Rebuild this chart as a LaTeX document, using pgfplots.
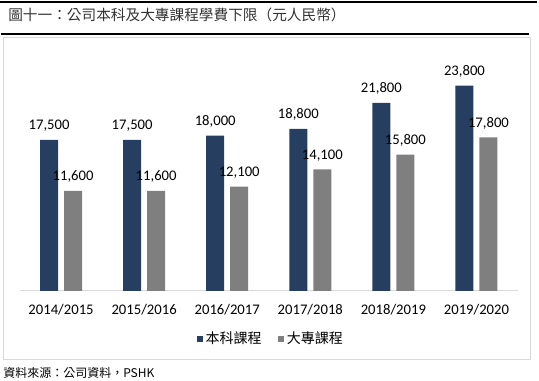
\documentclass[border=0pt]{standalone}
\usepackage{fontspec}
\setmainfont{Carlito}
\newfontfamily\cjk{Noto Sans CJK TC}
\usepackage{pgfplots}
\pgfplotsset{compat=1.18}
\definecolor{navy}{HTML}{263F61}
\definecolor{midgray}{HTML}{7F7F7F}
\definecolor{framegray}{HTML}{D9D9D9}
\definecolor{titlegray}{HTML}{333333}
\begin{document}
\begin{tikzpicture}
\useasboundingbox (0,0) rectangle (404.25pt,285.75pt);
% title rules
\draw[black,line width=1.1pt] (0pt,284.4pt) -- (403pt,284.4pt);
\draw[black,line width=0.9pt] (0.75pt,260.25pt) -- (397pt,260.25pt);
\node[anchor=west,inner sep=0pt,text=titlegray] at (6pt,274.5pt) {\cjk\fontsize{11}{13}\selectfont 圖十一：公司本科及大專課程學費下限（元人民幣）};
% chart frame
\draw[framegray,line width=0.75pt] (2.25pt,15.75pt) rectangle (397.5pt,257.25pt);
% source
\node[anchor=west,inner sep=0pt] at (2.25pt,6pt) {\cjk\fontsize{9}{11}\selectfont 資料來源：公司資料，PSHK};
\begin{axis}[
  at={(14.625pt,67.5pt)}, anchor=south west,
  scale only axis, width=373.875pt, height=161.8pt,
  ybar=4.5pt, bar width=13.5pt,
  xmin=-0.5, xmax=5.5, ymin=0, ymax=25000,
  axis x line*=bottom, axis y line=none,
  x axis line style={draw=framegray,line width=0.75pt},
  xtick=data,
  xticklabels={2014/2015,2015/2016,2016/2017,2017/2018,2018/2019,2019/2020},
  major tick length=0pt,
  ytick=\empty,
  xticklabel style={font=\fontsize{11}{13}\selectfont, anchor=base, yshift=-18pt, inner sep=0pt},
  /pgf/number format/.cd, fixed, precision=0, 1000 sep={,}, assume math mode=true,
  /pgfplots/.cd,
  nodes near coords,
  every node near coord/.append style={font=\fontsize{11}{13}\selectfont, text=black, anchor=base, yshift=7.5pt, inner sep=0pt},
  legend style={at={(0.505,-0.2225)}, anchor=center, draw=none, fill=none,
    legend columns=-1, font=\cjk\fontsize{10.5}{12}\selectfont,
    /tikz/every even column/.append style={column sep=10.5pt}},
  legend image code/.code={\fill[#1] (0pt,-2.25pt) rectangle (4.5pt,2.25pt);},
  legend cell align=left,
]
\addplot[fill=navy,draw=none] coordinates {(0,17500) (1,17500) (2,18000) (3,18800) (4,21800) (5,23800)};
\addplot[fill=midgray,draw=none] coordinates {(0,11600) (1,11600) (2,12100) (3,14100) (4,15800) (5,17800)};
\legend{本科課程,大專課程}
\end{axis}
\end{tikzpicture}
\end{document}
